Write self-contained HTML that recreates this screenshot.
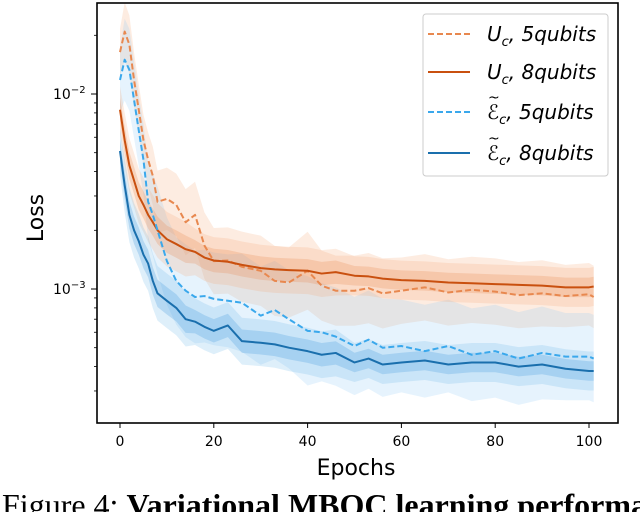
<!DOCTYPE html>
<html><head><meta charset="utf-8"><style>
body{margin:0;background:#fff;width:640px;height:512px;overflow:hidden;position:relative}
svg{position:absolute;left:0;top:0}
</style></head><body>
<svg id="chart" width="640" height="512" font-family="'DejaVu Sans','Liberation Sans',sans-serif">
<g id="bands"></g>
<g id="lines"></g>
<rect x="97" y="3" width="521" height="420" fill="none" stroke="#000" stroke-width="1.6"/>
<g id="axes"></g>
<text x="356" y="475" font-size="22" text-anchor="middle">Epochs</text>
<text transform="translate(43,218) rotate(-90)" font-size="22" text-anchor="middle">Loss</text>
<g>
<rect x="423" y="14" width="185" height="162" rx="3" fill="#fff" fill-opacity="0.85" stroke="#ccc" stroke-width="1"/>
<g><line x1="428" y1="34" x2="470" y2="34" stroke="#e8884f" stroke-width="2" stroke-dasharray="6,3"/><text x="487" y="41" font-size="20" font-style="italic">U<tspan font-size="13" dy="5">c</tspan><tspan dy="-5">, 5qubits</tspan></text></g>
<g><line x1="428" y1="72" x2="470" y2="72" stroke="#c9500f" stroke-width="2"/><text x="487" y="79" font-size="20" font-style="italic">U<tspan font-size="13" dy="5">c</tspan><tspan dy="-5">, 8qubits</tspan></text></g>
<g><line x1="428" y1="112" x2="470" y2="112" stroke="#3aa8ec" stroke-width="2" stroke-dasharray="6,3"/><text x="487" y="119" font-size="20" font-style="italic">ℰ<tspan font-size="13" dy="5">c</tspan><tspan dy="-5">, 5qubits</tspan></text><text x="488" y="102" font-size="14">~</text></g>
<g><line x1="428" y1="153" x2="470" y2="153" stroke="#1a6fad" stroke-width="2"/><text x="487" y="160" font-size="20" font-style="italic">ℰ<tspan font-size="13" dy="5">c</tspan><tspan dy="-5">, 8qubits</tspan></text><text x="488" y="143" font-size="14">~</text></g>
</g>
<text x="2" y="516" font-size="32" font-family="'Liberation Serif',serif">Figure 4: <tspan font-weight="bold">Variational MBQC learning performance</tspan></text>
</svg>
<script>
const epochs=[0,1,2,3,4,5,6,7,8,10,12,14,16,18,20,23,26,30,33,36,40,43,46,50,53,56,60,65,70,75,80,85,90,95,100,101];
const uc8=[0.0083,0.0058,0.0043,0.0036,0.0030,0.0027,0.0024,0.0022,0.0020,0.0018,0.0017,0.0016,0.00155,0.00145,0.0014,0.00138,0.00133,0.00128,0.00126,0.00125,0.00124,0.0012,0.00122,0.00117,0.00116,0.00113,0.00111,0.0011,0.00108,0.00107,0.00106,0.00105,0.00104,0.00102,0.00102,0.00103];
const ec8=[0.0051,0.0034,0.0024,0.0020,0.00176,0.0015,0.00135,0.0011,0.00095,0.00087,0.0008,0.0007,0.00068,0.00064,0.00061,0.00065,0.00054,0.00053,0.00052,0.0005,0.00048,0.00046,0.00047,0.00042,0.00044,0.00041,0.00042,0.00043,0.00041,0.00042,0.00042,0.0004,0.00041,0.00039,0.00038,0.00038];
const uc5=[0.0164,0.0209,0.0179,0.0118,0.0083,0.0058,0.0046,0.0038,0.0028,0.0029,0.0027,0.0022,0.0024,0.00167,0.00139,0.0014,0.0013,0.00124,0.0011,0.00108,0.00124,0.00104,0.00098,0.00098,0.00101,0.00095,0.00098,0.00102,0.00096,0.00099,0.00097,0.00093,0.00095,0.00092,0.00094,0.00091];
const ec5=[0.0118,0.0150,0.0133,0.0093,0.0065,0.0046,0.0028,0.0024,0.0020,0.00139,0.0011,0.00098,0.00091,0.00092,0.00089,0.00087,0.00085,0.00073,0.00078,0.0007,0.00061,0.0006,0.00057,0.00051,0.00055,0.0005,0.00051,0.00048,0.00051,0.00046,0.00048,0.00044,0.00047,0.00045,0.00045,0.00044];
const spread5=[0.12,0.15,0.15,0.14,0.13,0.13,0.14,0.15,0.16,0.16,0.16,0.17,0.17,0.17,0.17,0.17,0.18,0.18,0.18,0.18,0.2,0.18,0.18,0.18,0.18,0.18,0.17,0.17,0.17,0.17,0.17,0.17,0.17,0.16,0.16,0.16];
const spread8=[0.06,0.07,0.07,0.07,0.07,0.07,0.07,0.07,0.07,0.07,0.07,0.07,0.06,0.06,0.06,0.06,0.06,0.06,0.06,0.06,0.06,0.06,0.06,0.05,0.05,0.05,0.05,0.05,0.05,0.05,0.05,0.05,0.05,0.05,0.05,0.05];
const xTicks=[0,20,40,60,80,100];
const yMajor=[-2,-3];
const NS='http://www.w3.org/2000/svg';
const X=e=>120+4.69*e;
const Y=v=>94-195*(Math.log10(v)+2);
function mk2(parent,t,a){const el=document.createElementNS(NS,t);for(const k in a)el.setAttribute(k,a[k]);parent.appendChild(el);return el;}
const axes=document.getElementById('axes'),bands=document.getElementById('bands'),lines=document.getElementById('lines');
xTicks.forEach(t=>{
 const l=mk2(axes,'line',{x1:X(t),x2:X(t),y1:423,y2:428,stroke:'#000','stroke-width':1});
 
 
 const tx=mk2(axes,'text',{x:X(t),y:446,'font-size':14,'text-anchor':'middle'});tx.textContent=t;
 
 
});
yMajor.forEach(p=>{
 const y=Y(Math.pow(10,p));
 const l=mk2(axes,'line',{x1:91,x2:97,y1:y,y2:y,stroke:'#000','stroke-width':1});
 
 
 const tx=mk2(axes,'text',{x:53,y:y+5,'font-size':14});
 tx.innerHTML='10<tspan font-size="10" dy="-6">\u2212'+(-p)+'</tspan>';
 
 
});
for(let d=-4;d<=-2;d++)for(let m=2;m<=9;m++){const v=m*Math.pow(10,d);const y=Y(v);if(y<3||y>423)continue;
 const l=mk2(axes,'line',{x1:94,x2:97,y1:y,y2:y,stroke:'#000','stroke-width':0.8});
 
 }
function band(vals,sp,k,fill,op,name){
 let up=vals.map((v,i)=>X(epochs[i])+','+Y(v*Math.pow(10,sp[i]*k))).join(' ');
 let lo=vals.map((v,i)=>X(epochs[i])+','+Math.min(423,Y(v/Math.pow(10,sp[i]*k)))).reverse().join(' ');
 const p=mk2(bands,'polygon',{points:up+' '+lo,fill:fill,'fill-opacity':op});
 
 
}
band(uc5,spread5,1,'#f4a26b',0.2,'band-uc-5');
band(ec5,spread5,1.4,'#8cc8f4',0.22,'band-ec-5');
band(uc8,spread8,2,'#f4a26b',0.2,'band-uc-8-outer');
band(uc8,spread8,1,'#e8884f',0.25,'band-uc-8-inner');
band(ec8,spread8,2,'#6ab4ea',0.22,'band-ec-8-outer');
band(ec8,spread8,1,'#4a9fe0',0.28,'band-ec-8-inner');
function line(vals,col,dash,name){
 const p=mk2(lines,'polyline',{points:vals.map((v,i)=>X(epochs[i])+','+Y(v)).join(' '),fill:'none',stroke:col,'stroke-width':2,'stroke-dasharray':dash||'none','stroke-linejoin':'round'});
 
 
}
line(uc5,'#e8884f','6,3','line-uc-5');
line(uc8,'#c9500f','','line-uc-8');
line(ec5,'#3aa8ec','6,3','line-ec-5');
line(ec8,'#1a6fad','','line-ec-8');
</script>
</body></html>
